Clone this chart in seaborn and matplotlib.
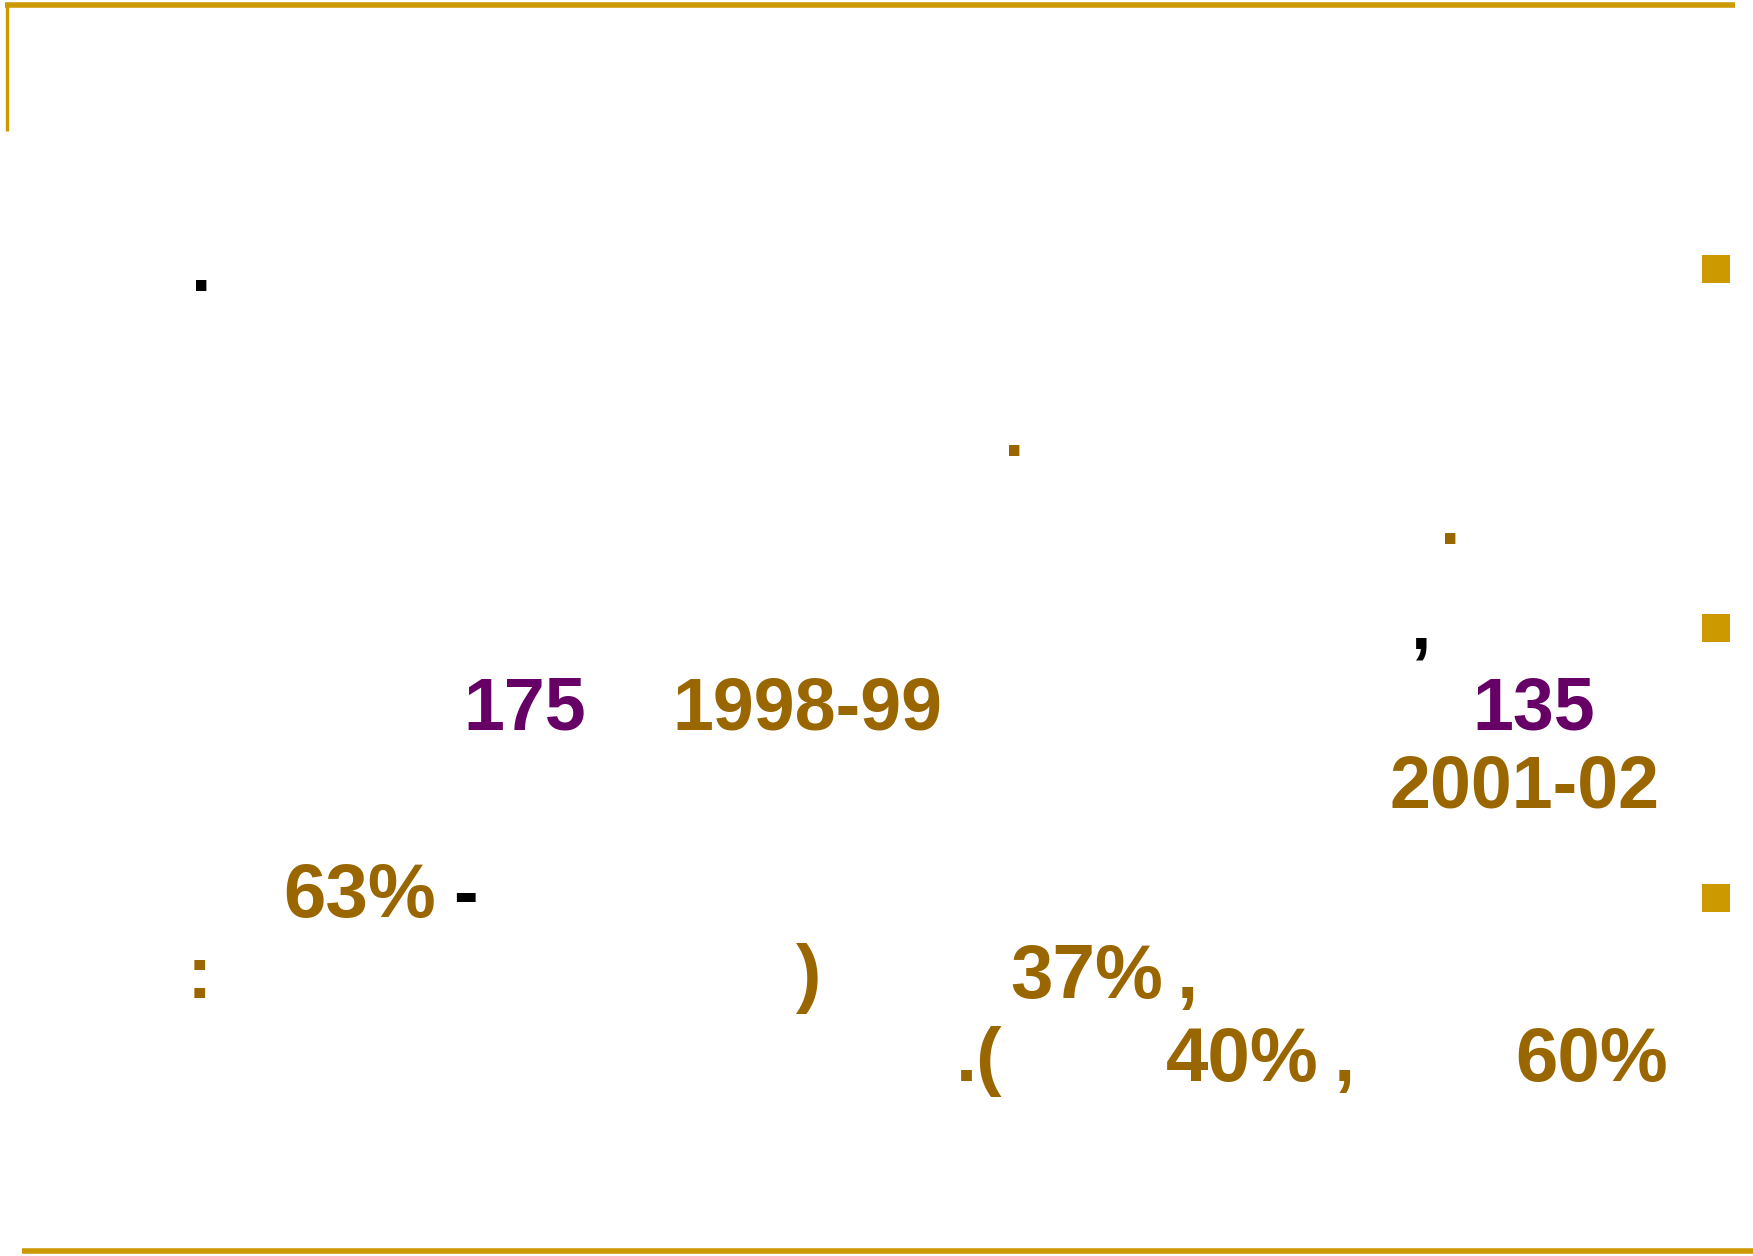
import matplotlib
matplotlib.use('Agg')
import matplotlib.pyplot as plt
import seaborn as sns
import pandas as pd
from matplotlib import font_manager

# Slide content (the words were in a script that did not render; only numbers and punctuation remain)
bullet_rows = [269, 628, 898]
counts = ['175', '135']
years = ['1998-99', '2001-02']
shares = ['63%', '37%', '40%', '60%']

GOLD = '#CC9900'
BROWN = '#996600'
PURPLE = '#660066'

sns.set_theme(style='white')
names = {f.name for f in font_manager.fontManager.ttflist}
WIDE = 'Liberation Sans'
NARROW = 'Liberation Sans Narrow' if 'Liberation Sans Narrow' in names else 'Liberation Sans'
plt.rcParams['font.family'] = [WIDE, 'DejaVu Sans']

W, H = 1753, 1256
fig = plt.figure(figsize=(W / 100, H / 100), dpi=100)
ax = fig.add_axes([0, 0, 1, 1])

# frame lines of the slide template
ax.plot([5, 1735], [4.5, 4.5], color=GOLD, lw=4, solid_capstyle='butt')
ax.plot([7, 7], [3, 131], color=GOLD, lw=2.4, solid_capstyle='butt')
ax.plot([22, 1753], [1251, 1251], color=GOLD, lw=4, solid_capstyle='butt')

# bullet squares
bullets = pd.DataFrame({'x': [1716] * len(bullet_rows), 'y': bullet_rows})
sns.scatterplot(data=bullets, x='x', y='y', marker='s', s=430, color=GOLD,
                edgecolor='none', ax=ax, legend=False)
ax.set_xlim(0, W)
ax.set_ylim(H, 0)
ax.axis('off')

FS = 53


def put(x, y, s, color, ha='center', family=WIDE, size=FS):
    ax.text(x, y, s, color=color, ha=ha, va='baseline', fontsize=size,
            fontweight='bold', family=[family, 'DejaVu Sans'])


# first bullet
put(201, 291, '.', 'black')
put(1014, 456, '.', BROWN)
put(1450, 544, '.', BROWN)

# second bullet
put(1420, 648, ',', 'black')
put(525, 729, counts[0], PURPLE)
put(807, 729, years[0], BROWN)
put(1534, 729, counts[1], PURPLE)
put(1525, 808, years[1], BROWN)

# third bullet
put(283, 917, shares[0], BROWN, ha='left', family=NARROW, size=55)
put(465, 917, '-', 'black')
put(199, 998, ':', BROWN, family=NARROW, size=55)
put(809, 998, ')', BROWN, family=NARROW, size=55)
put(1010, 998, shares[1], BROWN, ha='left', family=NARROW, size=55)
put(1187, 998, ',', BROWN, family=NARROW, size=55)
put(956, 1081, '.(', BROWN, ha='left', family=NARROW, size=55)
put(1166, 1081, shares[2], BROWN, ha='left', family=NARROW, size=55)
put(1344, 1081, ',', BROWN, family=NARROW, size=55)
put(1515, 1081, shares[3], BROWN, ha='left', family=NARROW, size=55)

fig.savefig('out.png', dpi=100, facecolor='white')
